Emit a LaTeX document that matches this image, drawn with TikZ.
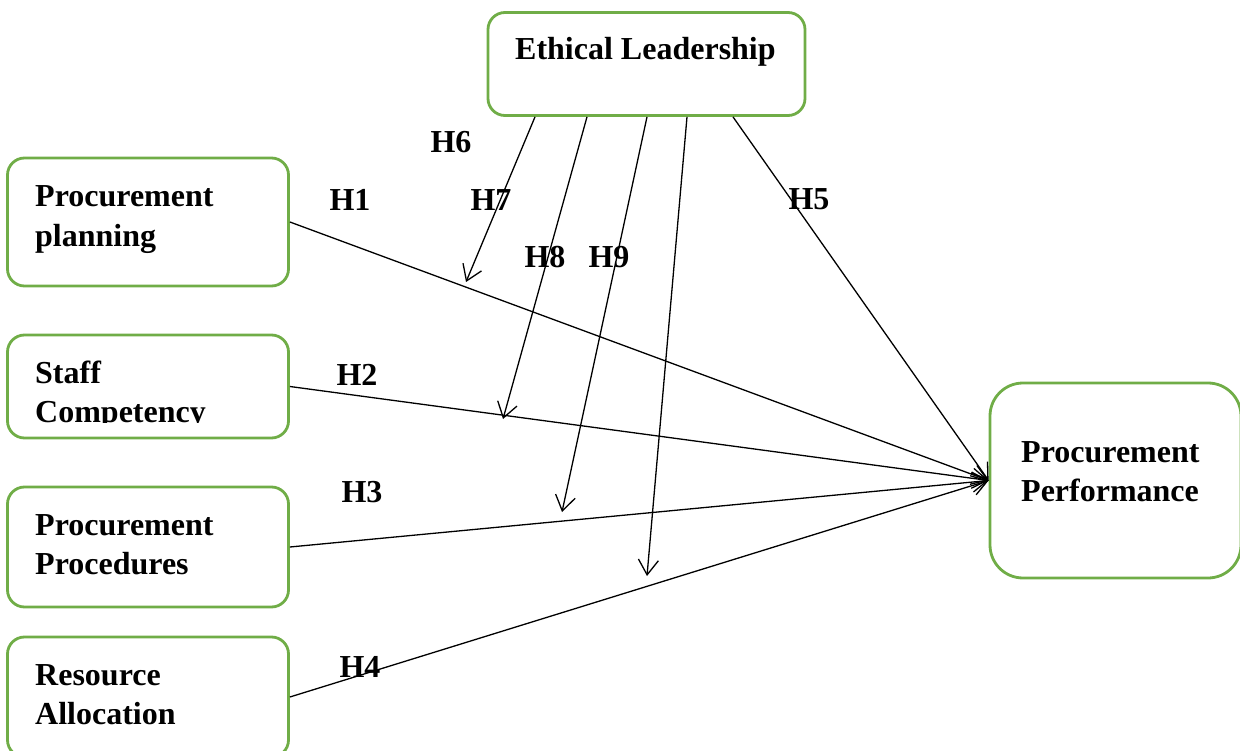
\documentclass[tikz,border=0pt]{standalone}
\usepackage{fontspec}
\setmainfont{Liberation Serif}
\usetikzlibrary{arrows.meta}
\definecolor{boxgreen}{RGB}{112,173,71}
\newcommand{\mytwolines}[2]{\vtop{\hbox{#1}\hbox{#2}}}
\begin{document}
\begin{tikzpicture}[x=1pt,y=-1pt,
  varbox/.style={draw=boxgreen, line width=2.8pt, rounded corners=17pt, rectangle, inner sep=0pt},
  lbl/.style={font=\fontsize{32}{39.5}\selectfont\bfseries, inner sep=0pt, anchor=base west},
  hyp/.style={font=\fontsize{32}{39.5}\selectfont\bfseries, inner sep=0pt, anchor=center},
  link/.style={line width=1.3pt, -{Straight Barb[length=15pt,width=20pt,line width=1.3pt]}}
]
\useasboundingbox (0,0) rectangle (1240,751);
\clip (0,0) rectangle (1240,751);
% boxes
\node[varbox, minimum width=317pt, minimum height=103pt] (EL) at (646.5,64) {};
\node[varbox, minimum width=281pt, minimum height=128pt] (PP) at (148,222) {};
\node[varbox, minimum width=281pt, minimum height=103pt] (SC) at (148,386.5) {};
\node[varbox, minimum width=281pt, minimum height=120pt] (PR) at (148,547) {};
\node[varbox, minimum width=281pt, minimum height=120pt] (RA) at (148,697) {};
\node[varbox, rounded corners=33pt, minimum width=251pt, minimum height=195pt] (PF) at (1115.5,480.5) {};
% texts
\node[lbl] (ELt) at (515,60) {Ethical Leadership};
\node[lbl] (PPt) at (35,207) {\mytwolines{Procurement}{planning}};
\begin{scope}
  \clip (0,330) rectangle (300,422);
  \node[lbl] (SCt) at (35,383) {\mytwolines{Staff}{Competency}};
\end{scope}
\node[lbl] (PRt) at (35,535) {\mytwolines{Procurement}{Procedures}};
\node[lbl] (RAt) at (35,685) {\mytwolines{Resource}{Allocation}};
\node[lbl] (PFt) at (1021,462) {\mytwolines{Procurement}{Performance}};
% moderator arrow ends
\coordinate (m6) at (466,282);
\coordinate (m7) at (503,419);
\coordinate (m8) at (562,512);
\coordinate (m9) at (647,576);
% direct links
\draw[link] (PP.east) -- (PF.west);
\draw[link] (SC.east) -- (PF.west);
\draw[link] (PR.east) -- (PF.west);
\draw[link] (RA.east) -- (PF.west);
\draw[link] ([xshift=86.5pt]EL.south) -- (PF.west);
% moderating links
\draw[link] ([xshift=-111.5pt]EL.south) -- (m6);
\draw[link] ([xshift=-59.5pt]EL.south) -- (m7);
\draw[link] ([xshift=0.5pt]EL.south) -- (m8);
\draw[link] ([xshift=40.5pt]EL.south) -- (m9);
% hypothesis labels
\node[hyp] (H6) at (451,142) {H6};
\node[hyp] (H1) at (350,200) {H1};
\node[hyp] (H7) at (491,200) {H7};
\node[hyp] (H5) at (809,199) {H5};
\node[hyp] (H8) at (545,257) {H8};
\node[hyp] (H9) at (609,257) {H9};
\node[hyp] (H2) at (357,375) {H2};
\node[hyp] (H3) at (362,492) {H3};
\node[hyp] (H4) at (360,667) {H4};
\end{tikzpicture}
\end{document}
